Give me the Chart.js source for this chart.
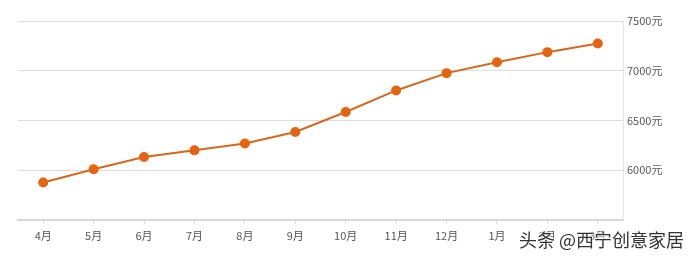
<!DOCTYPE html>
<html>
<head>
<meta charset="utf-8">
<script src="https://cdn.jsdelivr.net/npm/chart.js@4/dist/chart.umd.min.js"></script>
<style>
  html, body { margin: 0; padding: 0; background: #fff; }
  .wrap { position: relative; width: 692px; height: 259px; }
  .mark {
    position: absolute; left: 519px; top: 228px;
    font-family: "Noto Sans CJK SC", sans-serif; font-size: 18px; line-height: 22px;
    color: #333; white-space: nowrap;
    text-shadow: 0 0 2px #fff, 0 0 2px #fff, 0 0 3px #fff;
  }
</style>
</head>
<body>
<div class="wrap">
  <canvas id="chart" width="692" height="259"></canvas>
  <div class="mark">头条 @西宁创意家居</div>
</div>
<script>
// Sample Data
const months = ["4月", "5月", "6月", "7月", "8月", "9月", "10月", "11月", "12月", "1月", "2月", "3月"];
const prices = [5877, 6010, 6133, 6200, 6268, 6384, 6585, 6802, 6976, 7086, 7187, 7274];
const priceTicks = [5500, 6000, 6500, 7000, 7500];

const labelFont = { family: "'Noto Sans CJK SC', sans-serif", size: 11 };

const ctx = document.getElementById("chart").getContext("2d");
new Chart(ctx, {
  type: "line",
  data: {
    labels: months,
    datasets: [{
      data: prices,
      borderColor: "#d2691f",
      borderWidth: 2,
      backgroundColor: "#e4640f",
      pointBackgroundColor: "#e4640f",
      pointBorderColor: "#e4640f",
      pointRadius: 4,
      fill: false,
      tension: 0,
    }],
  },
  options: {
    responsive: false,
    animation: false,
    layout: {
      padding: { left: 18, top: 21, right: 0, bottom: 0 },
    },
    plugins: {
      legend: { display: false },
      tooltip: { enabled: false },
    },
    scales: {
      x: {
        offset: true,
        grid: {
          display: true,
          drawOnChartArea: false,
          drawTicks: true,
          tickLength: 4,
          offset: false,
          color: "#dcdcdc",
        },
        border: { color: "#d8d8d8", width: 2 },
        ticks: {
          color: "#555",
          font: labelFont,
          padding: 5,
          maxRotation: 0,
          autoSkip: false,
        },
        afterFit: (scale) => { scale.height = 39; },
      },
      y: {
        position: "right",
        min: priceTicks[0],
        max: priceTicks[priceTicks.length - 1],
        afterBuildTicks: (scale) => { scale.ticks = priceTicks.map(v => ({ value: v })); },
        grid: {
          color: "#dedede",
          drawTicks: false,
        },
        border: { color: "#e4e4e4" },
        ticks: {
          color: "#555",
          font: labelFont,
          padding: 4,
          callback: (v) => v === priceTicks[0] ? "" : v + "元",
        },
        afterFit: (scale) => { scale.width = 69; },
      },
    },
  },
});
</script>
</body>
</html>
